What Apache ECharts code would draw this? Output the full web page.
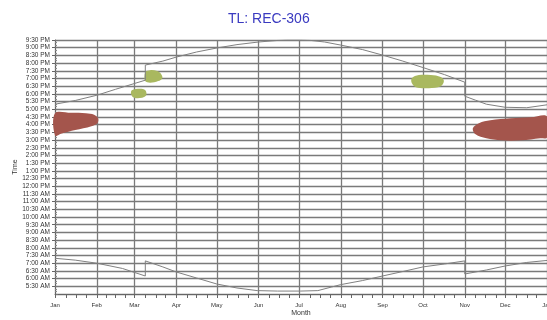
<!DOCTYPE html>
<html><head><meta charset="utf-8">
<script src="https://cdn.jsdelivr.net/npm/echarts@6/dist/echarts.min.js"></script>
<style>html,body{margin:0;padding:0;background:#fff}#c{width:547px;height:320px}</style>
</head><body><div id="c"></div>
<script>
// ---- data ----
const monthNames = ['Jan','Feb','Mar','Apr','May','Jun','Jul','Aug','Sep','Oct','Nov','Dec','Jan'];
const monthStarts = [0,31,59,90,120,151,181,212,243,273,304,334,365];

// sunset (hours of day) by day of year
const sunsetDays  = [0, 15, 31, 45, 67, 67, 80, 90, 105, 120, 135, 151, 165, 172, 182, 190, 200, 212, 228, 243, 258, 273, 289, 304, 304, 312, 320, 334, 350, 365];
const sunsetHours = [17.33, 17.57, 17.91, 18.3, 18.89, 19.87, 20.13, 20.39, 20.72, 20.98, 21.2, 21.37, 21.47, 21.5, 21.5, 21.47, 21.37, 21.17, 20.88, 20.52, 20.13, 19.71, 19.25, 18.76, 17.85, 17.59, 17.33, 17.13, 17.1, 17.29];

// sunrise (hours of day) by day of year
const sunriseDays  = [0, 15, 31, 50, 67, 67, 80, 90, 105, 120, 135, 150, 165, 182, 195, 205, 212, 228, 243, 258, 273, 289, 304, 304, 320, 334, 350, 365];
const sunriseHours = [7.32, 7.2, 7.0, 6.66, 6.17, 7.15, 6.76, 6.43, 6.04, 5.65, 5.39, 5.22, 5.19, 5.19, 5.22, 5.45, 5.61, 5.87, 6.17, 6.46, 6.76, 6.95, 7.15, 6.3, 6.56, 6.82, 7.05, 7.18];

// shaded regions: [day, hour] outlines
const redWinterEarly = [[0,16.74],[12,16.77],[23,16.74],[29,16.64],[32,16.4],[31.5,16.1],[27,15.9],[15,15.65],[5,15.43],[0,15.3]];
const redWinterLate  = [[365,16.54],[353,16.48],[338,16.41],[323,16.28],[314.5,16.09],[310,15.76],[312,15.37],[320,15.11],[331,14.98],[346,14.98],[360,15.11],[365,15.17]];
const greenMarchLow  = [[57,18.24],[63,18.34],[67,18.24],[67.7,17.91],[64.7,17.75],[58.7,17.75],[56.5,17.98]];
const greenMarchHigh = [[67,19.41],[70.6,19.54],[75.8,19.48],[78.8,19.28],[79.6,19.02],[76.6,18.83],[70.6,18.73],[66.9,18.83]];
const greenOctober   = [[264.7,19.02],[269.9,19.22],[278.8,19.22],[286.2,19.09],[288.5,18.83],[286.2,18.5],[277.3,18.37],[267.7,18.43],[264.7,18.7]];

// ---- chart ----
const FONT = 'Liberation Sans, Arial, sans-serif';
const dayCats = Array.from({length: 366}, (_, i) => 'd' + i);
const tickSet = new Set();
for (let m = 0; m < 12; m++) {
  const a = monthStarts[m], b = monthStarts[m + 1];
  for (let k = 0; k < 4; k++) tickSet.add(Math.round(a + (b - a) * k / 4));
}
tickSet.add(365);

function fmtTime(v) {
  const mins = Math.round(v * 60);
  let h = Math.floor(mins / 60), mm = mins % 60;
  const ap = h < 12 ? 'AM' : 'PM';
  let h12 = h % 12; if (h12 === 0) h12 = 12;
  return h12 + ':' + (mm < 10 ? '0' : '') + mm + ' ' + ap;
}

function pairs(xs, ys) { return xs.map((x, i) => [x, ys[i]]); }

function blob(points, color) {
  return {
    type: 'custom', xAxisIndex: 0, yAxisIndex: 0, silent: true, z: 1,
    data: points,
    renderItem: function (params, api) {
      if (params.dataIndex !== 0) return null;
      return {
        type: 'polygon',
        shape: { points: points.map(p => api.coord(p)), smooth: 0.35 },
        style: { fill: color, stroke: null }
      };
    }
  };
}

const chart = echarts.init(document.getElementById('c'), null, {renderer: 'canvas'});
chart.setOption({
  animation: false,
  backgroundColor: '#fff',
  title: {
    text: 'TL: REC-306', left: 223, top: 7,
    textStyle: { color: '#3a3ac0', fontSize: 14, fontWeight: 'normal', fontFamily: FONT }
  },
  grid: { left: 55, right: 0, top: 40, bottom: 26, containLabel: false, outerBoundsMode: 'none' },
  xAxis: [
    { type: 'value', min: 0, max: 365, show: false },
    {
      type: 'category', data: dayCats, boundaryGap: false, position: 'bottom',
      name: 'Month', nameLocation: 'middle', nameGap: 16, nameMoveOverlap: false,
      nameTextStyle: { fontSize: 7, color: '#333', fontFamily: FONT },
      axisLine: { lineStyle: { color: '#666', width: 1 } },
      axisTick: { show: true, length: 4, interval: (i) => tickSet.has(i), lineStyle: { color: '#666' } },
      axisLabel: {
        interval: (i) => monthStarts.indexOf(i) >= 0,
        formatter: (v, i) => { const m = monthStarts.indexOf(i); return m >= 0 ? monthNames[m] : ''; },
        fontSize: 6, color: '#333', margin: 8, fontFamily: FONT, hideOverlap: false
      },
      splitLine: { show: true, interval: (i) => monthStarts.indexOf(i) >= 0, lineStyle: { color: '#7a7a7a', width: 1.3 } }
    }
  ],
  yAxis: [
    {
      type: 'value', min: 5, max: 21.5, interval: 0.5,
      name: 'Time', nameLocation: 'middle', nameGap: 36, nameRotate: 90, nameMoveOverlap: false,
      nameTextStyle: { fontSize: 7, color: '#333', fontFamily: FONT },
      axisLine: { show: true, lineStyle: { color: '#666' } },
      axisTick: { show: true, length: 3, lineStyle: { color: '#666' } },
      axisLabel: { formatter: fmtTime, fontSize: 6.5, color: '#333', margin: 5, fontFamily: FONT, showMinLabel: false },
      splitLine: { show: true, lineStyle: { color: '#7a7a7a', width: 1.3 } }
    },
    {
      type: 'value', min: 5, max: 21.5, interval: 0.5, position: 'left',
      axisLine: { show: false },
      axisTick: { show: true, inside: true, length: 3, lineStyle: { color: '#777' } },
      minorTick: { show: true, splitNumber: 3, length: 2, lineStyle: { color: '#888' } },
      axisLabel: { show: false },
      splitLine: { show: false }
    }
  ],
  series: [
    blob(redWinterEarly, '#a4554c'),
    blob(redWinterLate, '#a4554c'),
    blob(greenMarchLow, '#a9b85f'),
    blob(greenMarchHigh, '#a9b85f'),
    blob(greenOctober, '#a9b85f'),
    {
      type: 'line', xAxisIndex: 0, yAxisIndex: 0, data: pairs(sunsetDays, sunsetHours),
      showSymbol: false, smooth: false, z: 3,
      lineStyle: { color: '#808080', width: 1 }
    },
    {
      type: 'line', xAxisIndex: 0, yAxisIndex: 0, data: pairs(sunriseDays, sunriseHours),
      showSymbol: false, smooth: false, z: 3,
      lineStyle: { color: '#808080', width: 1 }
    }
  ]
});
</script></body></html>
